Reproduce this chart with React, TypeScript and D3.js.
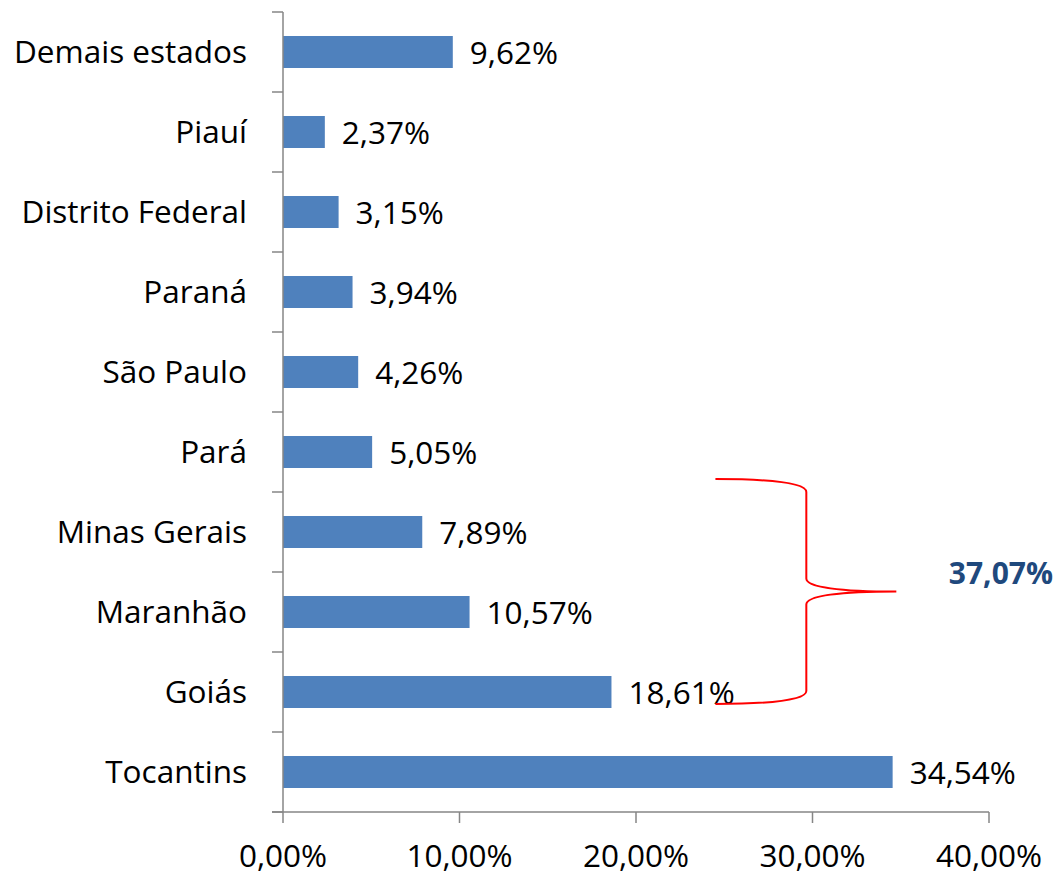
import React from "react";
import * as d3 from "d3";

const categories = [
  "Demais estados",
  "Piauí",
  "Distrito Federal",
  "Paraná",
  "São Paulo",
  "Pará",
  "Minas Gerais",
  "Maranhão",
  "Goiás",
  "Tocantins",
];
const values = [9.62, 2.37, 3.15, 3.94, 4.26, 5.05, 7.89, 10.57, 18.61, 34.54];
const xTicks = [0, 10, 20, 30, 40];
const bracketLabel = "37,07%";

const W = 1057;
const H = 876;
const FONT = "'Open Sans', 'Liberation Sans', sans-serif";
const FS = 31.5;

const fmt = (v: number) => v.toFixed(2).replace(".", ",") + "%";

export default function App() {
  const x = d3.scaleLinear().domain([0, 40]).range([283, 989]);
  const y = d3.scaleBand<string>().domain(categories).range([12, 812]).paddingInner(0.6).paddingOuter(0.3);
  const yBand = d3.scaleBand<string>().domain(categories).range([12, 812]);
  const axisColor = "#868686";

  // bracket geometry (annotation, expressed in scale terms)
  const bx0 = x(24.5);
  const bx1 = x(29.65);
  const bx2 = x(34.75);
  const yTop = yBand("Minas Gerais")! - 13;
  const yBot = yBand("Goiás")! + yBand.bandwidth() - 28;
  const yMid = (yTop + yBot) / 2;
  const r = 13;
  const bracketPath =
    `M${bx0},${yTop} C${bx0 + 55},${yTop} ${bx1},${yTop + 4} ${bx1},${yTop + r}` +
    ` L${bx1},${yMid - r} C${bx1},${yMid - 4} ${bx2 - 55},${yMid} ${bx2},${yMid}` +
    ` C${bx2 - 55},${yMid} ${bx1},${yMid + 4} ${bx1},${yMid + r}` +
    ` L${bx1},${yBot - r} C${bx1},${yBot - 4} ${bx0 + 55},${yBot} ${bx0},${yBot}`;

  return (
    <svg
      width={W}
      height={H}
      style={{ position: "absolute", left: 0, top: 0, background: "#fff" }}
      fontFamily={FONT}
    >
      {/* bars */}
      {categories.map((c, i) => (
        <rect
          key={c}
          x={x(0)}
          y={y(c)!}
          width={x(values[i]) - x(0)}
          height={y.bandwidth()}
          fill="#4F81BD"
        />
      ))}
      {/* y axis */}
      <line x1={283} x2={283} y1={12} y2={812} stroke={axisColor} strokeWidth={1.5} />
      {d3.range(categories.length + 1).map((k) => {
        const yy = 12 + (k * 800) / categories.length;
        return <line key={k} x1={272} x2={283} y1={yy} y2={yy} stroke={axisColor} strokeWidth={1.5} />;
      })}
      {/* x axis */}
      <line x1={272} x2={x(40)} y1={812} y2={812} stroke={axisColor} strokeWidth={1.5} />
      {xTicks.map((t) => (
        <g key={t}>
          <line x1={x(t)} x2={x(t)} y1={812} y2={823} stroke={axisColor} strokeWidth={1.5} />
          <text x={x(t)} y={867} textAnchor="middle" fontSize={FS} fill="#000">
            {fmt(t)}
          </text>
        </g>
      ))}
      {/* category labels */}
      {categories.map((c) => (
        <text
          key={c}
          x={247}
          y={yBand(c)! + yBand.bandwidth() / 2 + 11}
          textAnchor="end"
          fontSize={FS}
          fill="#000"
        >
          {c}
        </text>
      ))}
      {/* value labels */}
      {categories.map((c, i) => (
        <text
          key={c}
          x={x(values[i]) + 17}
          y={yBand(c)! + yBand.bandwidth() / 2 + 12}
          fontSize={FS}
          fill="#000"
        >
          {fmt(values[i])}
        </text>
      ))}
      {/* bracket */}
      <path d={bracketPath} fill="none" stroke="#FF0000" strokeWidth={2} />
      <text x={1053} y={584} textAnchor="end" fontSize={30} fontWeight="bold" fill="#1F497D">
        {bracketLabel}
      </text>
    </svg>
  );
}
